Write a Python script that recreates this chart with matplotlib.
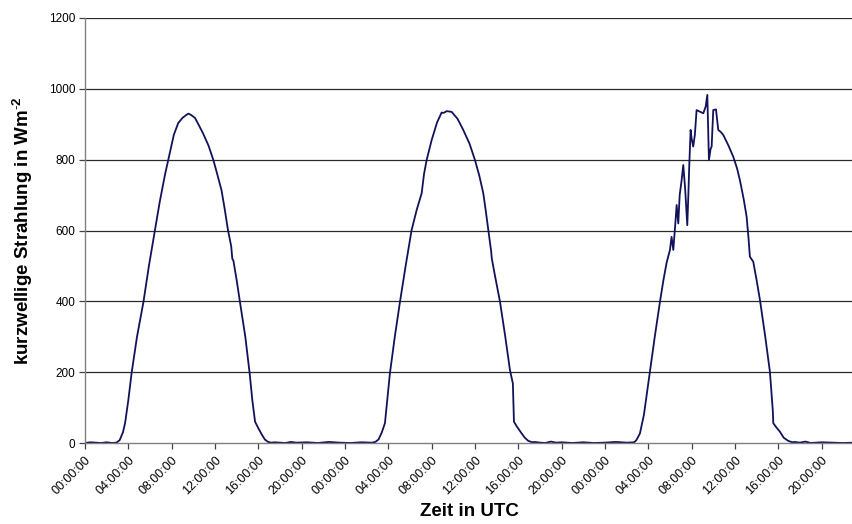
import matplotlib
matplotlib.use("Agg")
import matplotlib.pyplot as plt

plt.rcParams['font.family'] = ['Liberation Sans', 'DejaVu Sans']
plt.rcParams['mathtext.fontset'] = 'custom'
plt.rcParams['mathtext.bf'] = 'Liberation Sans:bold'
plt.rcParams['mathtext.rm'] = 'Liberation Sans'

# Shortwave radiation over three days (time in hours since start, W/m^2)
hours = [
    0.0, 0.5, 1.0, 1.5, 2.0, 2.5, 2.9, 3.2, 3.5, 3.7, 4.0, 4.3, 4.8, 5.4, 5.9,
    6.46, 6.9, 7.4, 7.85, 8.2, 8.6, 9.0, 9.3, 9.55, 9.8, 10.15, 10.5, 10.9,
    11.4, 11.85, 12.2, 12.6, 12.9, 13.2, 13.5, 13.6, 13.7, 14.0, 14.3, 14.8,
    15.2, 15.45, 15.7, 16.0, 16.3, 16.6, 16.9, 17.2,
    17.5, 18.5, 19.0, 19.5, 20.5, 21.5, 22.5, 23.5, 24.5, 25.5, 26.5, 26.8,
    27.1, 27.4, 27.69, 28.15, 28.6, 29.08, 29.6, 30.15, 30.62, 31.08, 31.3,
    31.54, 32.0, 32.5, 32.92, 33.1, 33.4, 33.85, 34.4, 34.92, 35.5, 36.0,
    36.4, 36.77, 37.0, 37.23, 37.5, 37.55, 37.8, 38.31, 38.8, 39.23, 39.5,
    39.6, 39.9, 40.31, 40.6, 40.92, 41.3,
    41.5, 42.0, 42.5, 43.0, 43.5, 44.0, 45.0, 46.0, 47.0, 48.0, 49.0, 50.0,
    50.7,
    50.9, 51.23, 51.6, 52.15, 52.6, 53.08, 53.4, 53.7, 54.0, 54.15, 54.25,
    54.31, 54.5, 54.62, 54.77, 54.9, 55.08, 55.23, 55.4, 55.6, 55.7, 55.78,
    55.91, 56.0, 56.15, 56.3, 56.46, 56.8, 57.08, 57.3, 57.45, 57.6, 57.75,
    57.85, 58.0, 58.25, 58.46, 58.7, 58.92, 59.4, 59.85, 60.2, 60.46, 60.8,
    61.08, 61.25, 61.38, 61.69, 62.0, 62.31, 62.8, 63.23, 63.5, 63.54, 63.8,
    64.15, 64.5, 64.92, 65.3,
    65.5, 66.0, 66.5, 67.0, 68.0, 69.0, 70.0, 71.0,
]

radiation = [
    0, 2, 1, 0, 2, 0, 1, 8, 30, 56, 121, 197, 300, 399, 500,
    601, 681, 760, 822, 870, 903, 918, 925, 930, 926, 918, 898, 874,
    840, 799, 760, 714, 660, 601, 555, 520, 515, 460, 399, 300,
    197, 120, 60, 42, 25, 10, 3, 1,
    2, 0, 3, 1, 2, 0, 3, 1, 0, 2, 1, 3,
    10, 30, 56, 197, 300, 399, 500, 601, 658, 705, 760,
    799, 855, 905, 933, 932, 937, 935, 915, 884, 845, 799,
    755, 705, 655, 601, 540, 522, 480, 399, 300, 206, 168,
    60, 45, 27, 15, 6, 2,
    3, 1, 0, 4, 1, 2, 0, 2, 0, 1, 3, 1,
    2,
    8, 27, 80, 201, 300, 399, 460, 510, 545, 582, 560,
    545, 620, 672, 620, 700, 742, 785, 720, 615, 700, 780,
    884, 860, 837, 870, 940, 935, 931, 950, 983, 799, 830,
    837, 940, 942, 884, 878, 870, 840, 808, 775, 742, 690,
    639, 580, 526, 512, 460, 404, 300, 201, 90, 56, 45,
    32, 15, 6, 2,
    3, 1, 4, 0, 2, 1, 0, 1,
]

tick_hours = list(range(0, 72, 4))
tick_labels = ["00:00:00", "04:00:00", "08:00:00", "12:00:00", "16:00:00", "20:00:00"] * 3
y_ticks = [0, 200, 400, 600, 800, 1000, 1200]

fig = plt.figure(figsize=(8.53, 5.24), dpi=100)
ax = fig.add_axes([85 / 853, 1 - 443 / 524, 1 - 85 / 853, (443 - 18) / 524])

ax.plot(hours, radiation, color='#12125a', lw=1.3, solid_joinstyle='round')

ax.set_xlim(0, 70.9)
ax.set_ylim(0, 1200)
ax.set_yticks(y_ticks)
ax.set_yticklabels([str(v) for v in y_ticks], fontsize=8.5)
ax.set_xticks(tick_hours)
ax.set_xticklabels(tick_labels, fontsize=9, rotation=45, ha='right', va='top',
                   rotation_mode='anchor')

for v in y_ticks[1:]:
    ax.axhline(v, color='#2a2a2a', lw=0.9, zorder=0)

for side in ('top', 'right'):
    ax.spines[side].set_visible(False)
for side in ('left', 'bottom'):
    ax.spines[side].set_color('#808080')
    ax.spines[side].set_linewidth(1.0)

ax.tick_params(axis='both', direction='out', length=4, width=0.9, color='#404040',
               pad=3)
ax.tick_params(axis='x', pad=4)

ax.set_xlabel("Zeit in UTC", fontsize=13.5, fontweight='bold', labelpad=4)
ax.set_ylabel("kurzwellige Strahlung in Wm$^{\\mathbf{\\text{-}2}}$", fontsize=13.5,
              fontweight='bold', labelpad=10)

fig.savefig("out.png", dpi=100)
